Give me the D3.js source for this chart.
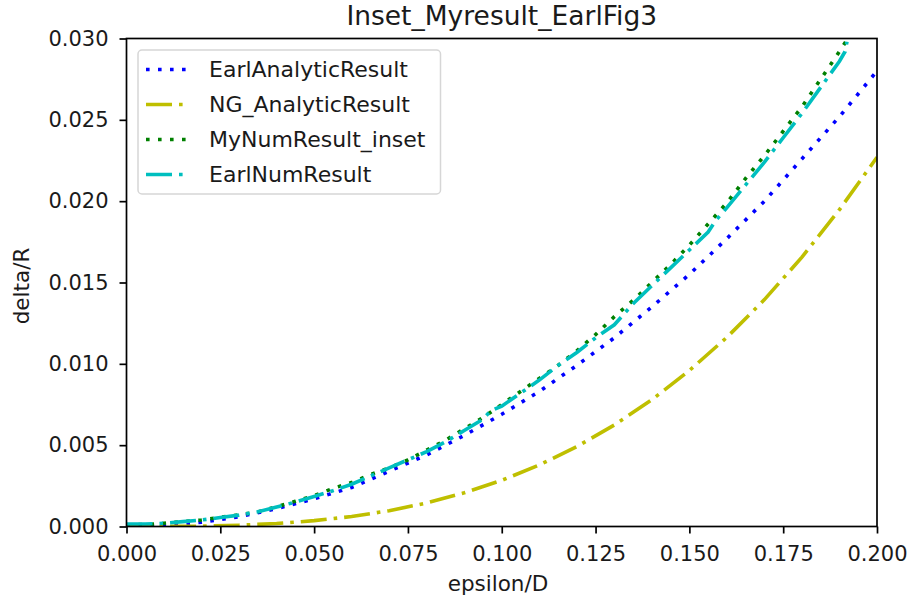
<!DOCTYPE html>
<html>
<head>
<meta charset="utf-8">
<script src="https://cdn.jsdelivr.net/npm/d3@7"></script>
<style>
  html, body { margin: 0; padding: 0; background: #fff; }
  svg text { font-family: "DejaVu Sans", sans-serif; fill: #1a1a1a; }
</style>
</head>
<body>
<svg id="chart" width="909" height="603"></svg>
<script>
// ---- data ----
const xTicks = [0.000, 0.025, 0.050, 0.075, 0.100, 0.125, 0.150, 0.175, 0.200];
const yTicks = [0.000, 0.005, 0.010, 0.015, 0.020, 0.025, 0.030];

const analyticX = [0, 0.01, 0.02, 0.03, 0.04, 0.05, 0.06, 0.07, 0.08, 0.09, 0.10,
                   0.11, 0.12, 0.13, 0.14, 0.15, 0.16, 0.17, 0.18, 0.19, 0.20];
const earlAnalytic = [0, 0.00007, 0.00027, 0.0006, 0.0011, 0.0017, 0.0024, 0.0034, 0.0044, 0.0056, 0.0069,
                      0.0083, 0.0099, 0.0116, 0.0135, 0.0155, 0.0177, 0.0200, 0.0226, 0.0252, 0.0280];
const ngAnalytic = [0, 0.000003, 0.00002, 0.00008, 0.00018, 0.00036, 0.00061, 0.00097, 0.00145, 0.00207, 0.00284,
                    0.00378, 0.00491, 0.00624, 0.00779, 0.00959, 0.01163, 0.01395, 0.01656, 0.01948, 0.0227];

const myNumX = [0, 0.005, 0.01, 0.015, 0.02, 0.025, 0.03, 0.035, 0.04, 0.045, 0.05, 0.055, 0.06, 0.065,
                0.07, 0.075, 0.08, 0.085, 0.09, 0.095, 0.10, 0.105, 0.11, 0.115, 0.12, 0.125, 0.13, 0.135,
                0.14, 0.145, 0.15, 0.155, 0.16, 0.165, 0.17, 0.175, 0.18, 0.185, 0.19, 0.1925];
const myNum = [0.0001, 0.00012, 0.0002, 0.0003, 0.0004, 0.00057, 0.00072, 0.0009, 0.00122, 0.00155, 0.0019,
               0.00234, 0.0027, 0.0032, 0.0036, 0.0041, 0.0047, 0.0053, 0.0060, 0.0067, 0.0075, 0.0083,
               0.0091, 0.0099, 0.0108, 0.0118, 0.0129, 0.0139, 0.0150, 0.0161, 0.0173, 0.0186, 0.0199,
               0.0214, 0.0228, 0.0243, 0.0258, 0.0275, 0.0292, 0.0301];

const earlNumX = [0, 0.005, 0.01, 0.015, 0.02, 0.025, 0.03, 0.035, 0.04, 0.045, 0.05, 0.055, 0.06, 0.065,
                  0.07, 0.075, 0.08, 0.085, 0.09, 0.095, 0.097, 0.10, 0.105, 0.11, 0.115, 0.12, 0.125, 0.13,
                  0.135, 0.14, 0.145, 0.15, 0.155, 0.157, 0.16, 0.165, 0.17, 0.175, 0.18, 0.185, 0.19,
                  0.1915, 0.192];
const earlNum = [0.00015, 0.00015, 0.0002, 0.0003, 0.0004, 0.00055, 0.0007, 0.0009, 0.0012, 0.0015, 0.00185,
                 0.0022, 0.0026, 0.0031, 0.0036, 0.0041, 0.0046, 0.0052, 0.0059, 0.0066, 0.0071, 0.0074,
                 0.0082, 0.0090, 0.0099, 0.0107, 0.0116, 0.0124, 0.0137, 0.0148, 0.0159, 0.0170, 0.0181,
                 0.0188, 0.0196, 0.0210, 0.0224, 0.0239, 0.0254, 0.0270, 0.0286, 0.0292, 0.0298];

const seriesNames = ["EarlAnalyticResult", "NG_AnalyticResult", "MyNumResult_inset", "EarlNumResult"];

// ---- layout ----
const svg = d3.select("#chart");
const L = 126.5, R = 877, T = 38.5, B = 526.5;
const x = d3.scaleLinear().domain([0, 0.2]).range([L, R]);
const y = d3.scaleLinear().domain([0, 0.03]).range([B, T]);

const styles = [
  { color: "#0000ff", width: 3.6, dash: "3.6 8.4" },
  { color: "#bfbf00", width: 3.6, dash: "26 7 3.6 7" },
  { color: "#008000", width: 3.6, dash: "3.6 8.4" },
  { color: "#00bfbf", width: 3.6, dash: "26 7 3.6 7" }
];
const series = [
  { xs: analyticX, ys: earlAnalytic },
  { xs: analyticX, ys: ngAnalytic },
  { xs: myNumX, ys: myNum },
  { xs: earlNumX, ys: earlNum }
];

svg.append("defs").append("clipPath").attr("id", "clip")
  .append("rect").attr("x", L).attr("y", T).attr("width", R - L).attr("height", B - T);

const line = d3.line().x(d => x(d[0])).y(d => y(d[1]));
const plot = svg.append("g").attr("clip-path", "url(#clip)");
series.forEach((s, i) => {
  const pts = s.xs.map((v, k) => [v, s.ys[k]]);
  plot.append("path").datum(pts)
    .attr("d", line)
    .attr("fill", "none")
    .attr("stroke", styles[i].color)
    .attr("stroke-width", styles[i].width)
    .attr("stroke-dasharray", styles[i].dash);
});

// ---- axes ----
const fmt = d3.format(".3f");
const xAxis = svg.append("g").attr("transform", `translate(0,${B})`)
  .call(d3.axisBottom(x).tickValues(xTicks).tickFormat(fmt).tickSize(7).tickPadding(12));
const yAxis = svg.append("g").attr("transform", `translate(${L},0)`)
  .call(d3.axisLeft(y).tickValues(yTicks).tickFormat(fmt).tickSize(7).tickPadding(11));
[xAxis, yAxis].forEach(a => {
  a.select(".domain").remove();
  a.selectAll(".tick line").attr("stroke", "#000").attr("stroke-width", 1.7);
  a.selectAll(".tick text").style("font-size", "21px").attr("fill", "#1a1a1a")
    .style("font-family", "'DejaVu Sans', sans-serif");
});
xAxis.selectAll(".tick text").attr("dy", "0.72em");

// frame
svg.append("rect").attr("x", L).attr("y", T).attr("width", R - L).attr("height", B - T)
  .attr("fill", "none").attr("stroke", "#000").attr("stroke-width", 1.7);

// labels
svg.append("text").attr("x", (L + R) / 2).attr("y", 25).attr("text-anchor", "middle")
  .style("font-size", "26.5px").text("Inset_Myresult_EarlFig3");
svg.append("text").attr("x", 498).attr("y", 591).attr("text-anchor", "middle")
  .style("font-size", "21.5px").text("epsilon/D");
svg.append("text").attr("transform", `translate(28.5,286) rotate(-90)`)
  .attr("text-anchor", "middle").style("font-size", "21.5px").text("delta/R");

// ---- legend ----
const lg = svg.append("g");
lg.append("rect").attr("x", 138).attr("y", 50).attr("width", 302.5).attr("height", 144)
  .attr("rx", 4).attr("fill", "#fff").attr("fill-opacity", 0.8)
  .attr("stroke", "#d6d6d6").attr("stroke-width", 1.5);
seriesNames.forEach((name, i) => {
  const cy = 69.5 + i * 35;
  lg.append("line").attr("x1", 146).attr("x2", 188).attr("y1", cy).attr("y2", cy)
    .attr("stroke", styles[i].color).attr("stroke-width", styles[i].width)
    .attr("stroke-dasharray", styles[i].dash);
  lg.append("text").attr("x", 209).attr("y", cy).attr("dy", "0.36em")
    .style("font-size", "22px").text(name);
});
</script>
</body>
</html>
